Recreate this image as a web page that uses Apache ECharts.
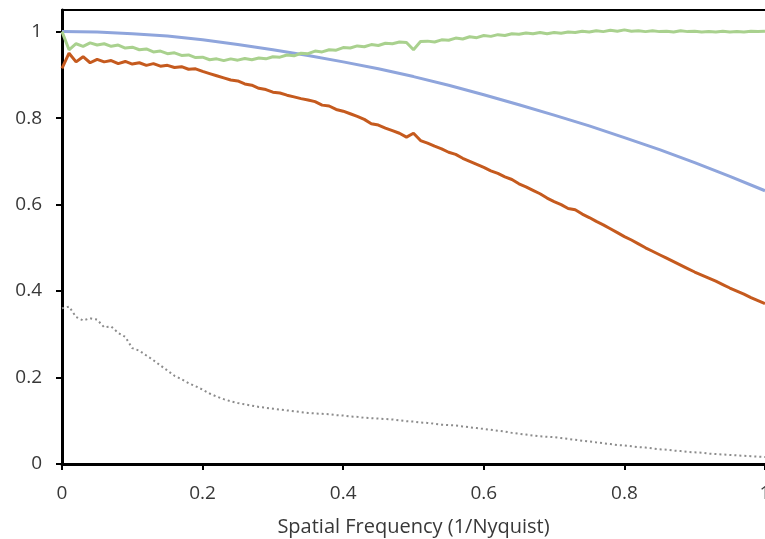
<!DOCTYPE html>
<html>
<head>
<meta charset="utf-8">
<script src="https://cdn.jsdelivr.net/npm/echarts@6/dist/echarts.min.js"></script>
<style>
html,body{margin:0;padding:0;background:#fff;}
#chart{width:765px;height:539px;}
</style>
</head>
<body>
<div id="chart"></div>
<script>
// Spatial frequency (1/Nyquist)
const freq = [
0.00,0.01,0.02,0.03,0.04,0.05,0.06,0.07,0.08,0.09,
0.10,0.11,0.12,0.13,0.14,0.15,0.16,0.17,0.18,0.19,
0.20,0.21,0.22,0.23,0.24,0.25,0.26,0.27,0.28,0.29,
0.30,0.31,0.32,0.33,0.34,0.35,0.36,0.37,0.38,0.39,
0.40,0.41,0.42,0.43,0.44,0.45,0.46,0.47,0.48,0.49,
0.50,0.51,0.52,0.53,0.54,0.55,0.56,0.57,0.58,0.59,
0.60,0.61,0.62,0.63,0.64,0.65,0.66,0.67,0.68,0.69,
0.70,0.71,0.72,0.73,0.74,0.75,0.76,0.77,0.78,0.79,
0.80,0.81,0.82,0.83,0.84,0.85,0.86,0.87,0.88,0.89,
0.90,0.91,0.92,0.93,0.94,0.95,0.96,0.97,0.98,0.99,
1.00];

// Blue smooth curve
const blueFreq = [0,0.05,0.1,0.15,0.2,0.25,0.3,0.35,0.4,0.45,0.5,0.55,0.6,0.65,0.7,0.75,0.8,0.85,0.9,0.95,1.0];
const blueValues = [1.000,0.999,0.995,0.990,0.981,0.970,0.958,0.945,0.930,0.914,0.896,0.876,0.854,0.831,0.807,0.782,0.755,0.727,0.697,0.665,0.632];

// Orange noisy curve
const orangeValues = [
0.915,0.950,0.930,0.942,0.928,0.936,0.930,0.933,0.926,0.931,
0.925,0.928,0.922,0.926,0.920,0.922,0.917,0.919,0.913,0.914,
0.908,0.903,0.898,0.893,0.888,0.886,0.879,0.876,0.869,0.866,
0.860,0.858,0.853,0.849,0.845,0.842,0.838,0.830,0.828,0.820,
0.816,0.810,0.804,0.797,0.787,0.784,0.777,0.771,0.765,0.756,
0.765,0.748,0.742,0.735,0.729,0.721,0.716,0.707,0.700,0.693,
0.686,0.678,0.672,0.664,0.658,0.648,0.641,0.633,0.625,0.615,
0.607,0.600,0.591,0.588,0.578,0.570,0.561,0.553,0.544,0.535,
0.526,0.518,0.509,0.500,0.492,0.484,0.476,0.468,0.460,0.452,
0.444,0.437,0.430,0.423,0.415,0.407,0.400,0.393,0.385,0.378,
0.371];

// Green noisy curve
const greenValues = [
1.000,0.958,0.972,0.966,0.974,0.969,0.972,0.966,0.969,0.962,
0.964,0.958,0.960,0.953,0.955,0.949,0.951,0.945,0.946,0.940,
0.941,0.935,0.937,0.933,0.937,0.934,0.938,0.935,0.939,0.937,
0.942,0.941,0.946,0.944,0.950,0.949,0.955,0.953,0.958,0.957,
0.963,0.962,0.967,0.965,0.970,0.968,0.973,0.972,0.976,0.975,
0.958,0.977,0.978,0.976,0.981,0.980,0.985,0.983,0.988,0.986,
0.991,0.989,0.993,0.991,0.995,0.994,0.997,0.995,0.998,0.995,
0.998,0.996,0.999,0.998,1.001,0.999,1.002,1.000,1.003,1.001,
1.004,1.001,1.002,1.000,1.002,1.000,1.001,0.999,1.002,1.000,
1.001,0.999,1.000,0.999,1.001,0.999,1.000,0.999,1.001,1.000,
1.001];

// Gray dotted curve
const grayValues = [
0.360,0.364,0.340,0.332,0.337,0.334,0.316,0.318,0.303,0.294,
0.268,0.262,0.251,0.240,0.228,0.216,0.204,0.196,0.187,0.180,
0.172,0.163,0.156,0.150,0.145,0.141,0.138,0.135,0.132,0.130,
0.128,0.126,0.124,0.122,0.120,0.118,0.117,0.116,0.115,0.113,
0.112,0.110,0.109,0.107,0.106,0.105,0.104,0.103,0.101,0.099,
0.098,0.096,0.095,0.093,0.091,0.090,0.089,0.087,0.085,0.083,
0.081,0.079,0.077,0.075,0.072,0.070,0.068,0.066,0.064,0.063,
0.062,0.060,0.058,0.056,0.054,0.052,0.050,0.048,0.046,0.044,
0.043,0.041,0.039,0.038,0.036,0.034,0.033,0.031,0.030,0.028,
0.027,0.026,0.024,0.023,0.022,0.021,0.020,0.019,0.018,0.017,
0.016];

const xTicks = [0,0.2,0.4,0.6,0.8,1];
const yTicks = [0,0.2,0.4,0.6,0.8,1];
const xTitle = 'Spatial Frequency (1/Nyquist)';

const pair = (xs, ys) => xs.map((x, i) => [x, ys[i]]);
const FONT = 'Open Sans';

const chart = echarts.init(document.getElementById('chart'), null, {renderer: 'canvas'});
chart.setOption({
  animation: false,
  backgroundColor: '#ffffff',
  grid: {left: 62, right: 0, top: 10, bottom: 75, containLabel: false, outerBoundsMode: 'none'},
  xAxis: [{
    type: 'value', min: 0, max: 1, interval: 0.2, position: 'bottom',
    axisLine: {show: true, onZero: false, lineStyle: {color: '#000', width: 3}},
    axisTick: {show: true, length: 6, lineStyle: {color: '#000', width: 2}, customValues: xTicks},
    axisLabel: {fontSize: 19, color: '#383838', margin: 20, fontFamily: FONT, customValues: xTicks,
      hideOverlap: false, formatter: v => String(v)},
    splitLine: {show: false},
    name: xTitle, nameLocation: 'middle', nameGap: 53,
    nameTextStyle: {fontSize: 20, color: '#383838', fontFamily: FONT}
  }, {
    type: 'value', min: 0, max: 1, position: 'top',
    axisLine: {show: true, onZero: false, lineStyle: {color: '#000', width: 2}},
    axisTick: {show: false}, axisLabel: {show: false}, splitLine: {show: false}
  }],
  yAxis: {
    type: 'value', min: 0, max: 1.05, interval: 0.2,
    axisLine: {show: true, onZero: false, lineStyle: {color: '#000', width: 3}},
    axisTick: {show: true, length: 6, lineStyle: {color: '#000', width: 2}, customValues: yTicks},
    axisLabel: {fontSize: 19, color: '#383838', margin: 20, fontFamily: FONT,
      customValues: yTicks, formatter: v => String(v)},
    splitLine: {show: false}
  },
  series: [
    {type: 'line', data: pair(blueFreq, blueValues), showSymbol: false, symbol: 'none',
     lineStyle: {color: '#8FA5DC', width: 3}, itemStyle: {color: '#8FA5DC'}},
    {type: 'line', data: pair(freq, orangeValues), showSymbol: false, symbol: 'none',
     lineStyle: {color: '#C55A1E', width: 3}, itemStyle: {color: '#C55A1E'}},
    {type: 'line', data: pair(freq, greenValues), showSymbol: false, symbol: 'none',
     lineStyle: {color: '#A9D18E', width: 3}, itemStyle: {color: '#A9D18E'}},
    {type: 'line', data: pair(freq, grayValues), showSymbol: false, symbol: 'none',
     lineStyle: {color: '#8C8C8C', width: 2, type: [2, 3]}, itemStyle: {color: '#8C8C8C'}}
  ]
});
</script>
</body>
</html>
